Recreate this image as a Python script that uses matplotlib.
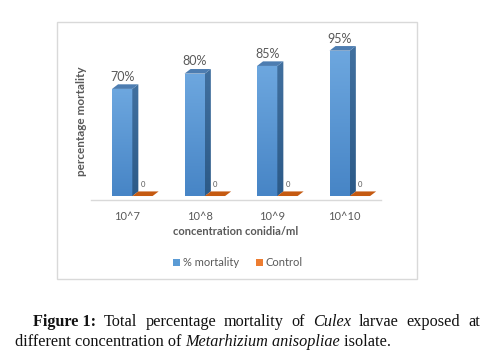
import matplotlib
matplotlib.use("Agg")
import matplotlib.pyplot as plt
import numpy as np
from matplotlib.patches import Polygon, Rectangle, Patch
from matplotlib.colors import LinearSegmentedColormap

categories = ["10^7", "10^8", "10^9", "10^10"]
mortality = [70, 80, 85, 95]
control = [0, 0, 0, 0]
mortality_labels = ["70%", "80%", "85%", "95%"]
control_labels = ["0", "0", "0", "0"]

W, H = 496, 356
fig = plt.figure(figsize=(W / 100, H / 100), dpi=100)
fig.patch.set_facecolor("white")

def fx(px):
    return px / W

def fy(py):
    return 1 - py / H

# chart frame
fig.patches.append(Rectangle((fx(57), fy(279)), fx(417) - fx(57), fy(22) - fy(279),
                             transform=fig.transFigure, fill=False,
                             edgecolor="#d9d9d9", linewidth=1.0))

ax = fig.add_axes([fx(91), fy(200), fx(381) - fx(91), fy(43) - fy(200)])
ax.set_xlim(-0.5, 3.5)
ax.set_ylim(-2.6, 100)
ax.patch.set_alpha(0)
for s in ["top", "left", "right"]:
    ax.spines[s].set_visible(False)
ax.spines["bottom"].set_color("#d9d9d9")
ax.spines["bottom"].set_linewidth(1.0)
ax.set_yticks([])
ax.set_xticks(range(len(categories)))
ax.set_xticklabels(categories, fontsize=8, color="#595959", family="Lato")
ax.tick_params(axis="x", length=0, pad=8)

w = 0.28
off_b = -0.21
off_o = off_b + w
dx, dy = 0.083, 3.0

grad = np.linspace(0, 1, 64).reshape(-1, 1)
front_cmap = LinearSegmentedColormap.from_list("f", ["#4785c6", "#6da7df"])
side_cmap = LinearSegmentedColormap.from_list("s", ["#2c5a88", "#41709f"])

for i, v in enumerate(mortality):
    x0 = i + off_b
    rect = Rectangle((x0, 0), w, v, facecolor="none", edgecolor="none")
    ax.add_patch(rect)
    im = ax.imshow(grad, cmap=front_cmap, origin="lower", aspect="auto",
                   extent=(x0, x0 + w, 0, v), zorder=2)
    im.set_clip_path(rect)
    side = Polygon([(x0 + w, 0), (x0 + w + dx, dy), (x0 + w + dx, v + dy), (x0 + w, v)],
                   closed=True, facecolor="none", edgecolor="none")
    ax.add_patch(side)
    im2 = ax.imshow(grad, cmap=side_cmap, origin="lower", aspect="auto",
                    extent=(x0 + w, x0 + w + dx, 0, v + dy), zorder=2)
    im2.set_clip_path(side)
    top = Polygon([(x0, v), (x0 + w, v), (x0 + w + dx, v + dy), (x0 + dx, v + dy)],
                  closed=True, facecolor="#4d7db1", edgecolor="none", zorder=3)
    ax.add_patch(top)
    ax.text(x0 + w / 2, v + dy + 1.0, mortality_labels[i], ha="center", va="bottom",
            fontsize=9, color="#595959", family="Lato", clip_on=False, zorder=5)

for i, v in enumerate(control):
    x0 = i + off_o
    top = Polygon([(x0, v), (x0 + w, v), (x0 + w + dx, v + dy), (x0 + dx, v + dy)],
                  closed=True, facecolor="#c55a11", edgecolor="none", zorder=3)
    ax.add_patch(top)
    ax.text(x0 + w / 2, v + dy + 2.5, control_labels[i], ha="center", va="bottom",
            fontsize=5.5, color="#595959", family="Lato", zorder=5)

ax.set_xlabel("concentration conidia/ml", fontsize=8, fontweight="bold",
              color="#595959", family="Lato", labelpad=3)
ax.set_ylabel("percentage mortality", fontsize=8.5, fontweight="bold",
              color="#595959", family="Lato", labelpad=3)

handles = [Patch(facecolor="#5b9bd5", edgecolor="none"),
           Patch(facecolor="#ed7d31", edgecolor="none")]
fig.legend(handles, ["% mortality", "Control"], loc="center",
           bbox_to_anchor=(fx(238), fy(263)), ncol=2, frameon=False,
           prop={"family": "Lato", "size": 8}, labelcolor="#595959",
           handlelength=0.6, handleheight=0.6, handletextpad=0.3, columnspacing=1.5)

# caption
fig.canvas.draw()
renderer = fig.canvas.get_renderer()
cap_size = 11.7
line1 = [("Figure 1:", "bold", "normal"), ("Total", "normal", "normal"),
         ("percentage", "normal", "normal"), ("mortality", "normal", "normal"),
         ("of", "normal", "normal"), ("Culex", "normal", "italic"),
         ("larvae", "normal", "normal"), ("exposed", "normal", "normal"),
         ("at", "normal", "normal")]
texts = []
for word, wt, st in line1:
    t = fig.text(0, fy(322), word, fontsize=cap_size, family="Liberation Serif",
                 fontweight=wt, fontstyle=st, color="#111111", va="center", ha="left")
    texts.append(t)
widths = [t.get_window_extent(renderer).width for t in texts]
x_start, x_end = 33, 480
gap = (x_end - x_start - sum(widths)) / (len(texts) - 1)
x = x_start
for t, wd in zip(texts, widths):
    t.set_x(fx(x))
    x += wd + gap

parts2 = [("different concentration of ", "normal"), ("Metarhizium anisopliae", "italic"),
          (" isolate.", "normal")]
x = 15
for word, st in parts2:
    t = fig.text(fx(x), fy(342), word, fontsize=cap_size, family="Liberation Serif",
                 fontstyle=st, color="#111111", va="center", ha="left")
    x += t.get_window_extent(renderer).width

fig.savefig("out.png", dpi=100, facecolor="white")
